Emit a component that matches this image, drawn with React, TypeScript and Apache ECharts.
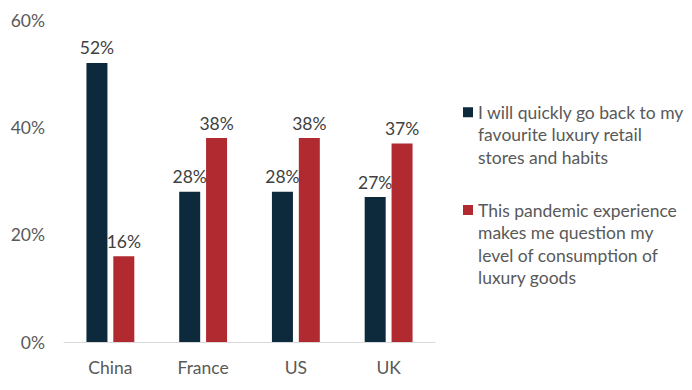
import React, { useEffect, useRef } from "react";
import * as echarts from "echarts";

const categories = ["China", "France", "US", "UK"];
const seriesNames = [
  "I will quickly go back to my\nfavourite luxury retail\nstores and habits",
  "This pandemic experience\nmakes me question my\nlevel of consumption of\nluxury goods",
];
const backToStores = [52, 28, 28, 27];
const questionConsumption = [16, 38, 38, 37];
const yTicks = [0, 20, 40, 60];

const FONT = "Lato, 'Open Sans', sans-serif";
const NAVY = "#0c2a3b";
const RED = "#b02a30";
const FS = 17.5;

export default function App() {
  const ref = useRef<HTMLDivElement>(null);
  useEffect(() => {
    if (!ref.current) return;
    const chart = echarts.init(ref.current, undefined, { renderer: "svg" });
    const legendText = {
      fontFamily: FONT,
      fontSize: FS,
      color: "#595959",
      lineHeight: 22.5,
    };
    chart.setOption({
      animation: false,
      textStyle: { fontFamily: FONT },
      grid: { left: 64, right: 257, top: 20, bottom: 48 },
      legend: [
        {
          data: [seriesNames[0]],
          orient: "vertical",
          left: 463,
          top: 101,
          padding: 0,
          itemWidth: 10,
          itemHeight: 67,
          icon: "path://M0,6H10V16H0Z M0,0 M0,67",
          textStyle: legendText,
          selectedMode: false,
        },
        {
          data: [seriesNames[1]],
          orient: "vertical",
          left: 463,
          top: 199,
          padding: 0,
          itemWidth: 10,
          itemHeight: 90,
          icon: "path://M0,6H10V16H0Z M0,0 M0,90",
          textStyle: legendText,
          selectedMode: false,
        },
      ],
      xAxis: {
        type: "category",
        data: categories,
        axisLine: { show: true, lineStyle: { color: "#d9d9d9", width: 1 } },
        axisTick: { show: false },
        axisLabel: { color: "#595959", fontSize: FS, margin: 16, fontFamily: FONT },
      },
      yAxis: {
        type: "value",
        min: yTicks[0],
        max: yTicks[yTicks.length - 1],
        interval: 20,
        axisLine: { show: false },
        axisTick: { show: false },
        splitLine: { show: false },
        axisLabel: {
          color: "#595959",
          fontSize: FS,
          margin: 19,
          fontFamily: FONT,
          formatter: (v: number) => v + "%",
        },
      },
      series: [
        {
          name: seriesNames[0],
          type: "bar",
          data: backToStores,
          barWidth: 21,
          barGap: "28%",
          itemStyle: { color: NAVY },
          label: {
            show: true,
            position: "top",
            distance: 6,
            color: "#404040",
            fontSize: FS,
            fontFamily: FONT,
            formatter: "{c}%",
          },
        },
        {
          name: seriesNames[1],
          type: "bar",
          data: questionConsumption,
          barWidth: 21,
          itemStyle: { color: RED },
          label: {
            show: true,
            position: "top",
            distance: 6,
            color: "#404040",
            fontSize: FS,
            fontFamily: FONT,
            formatter: "{c}%",
          },
        },
      ],
    });
    return () => chart.dispose();
  }, []);
  return <div ref={ref} style={{ width: 692, height: 390, margin: -8 }} />;
}
